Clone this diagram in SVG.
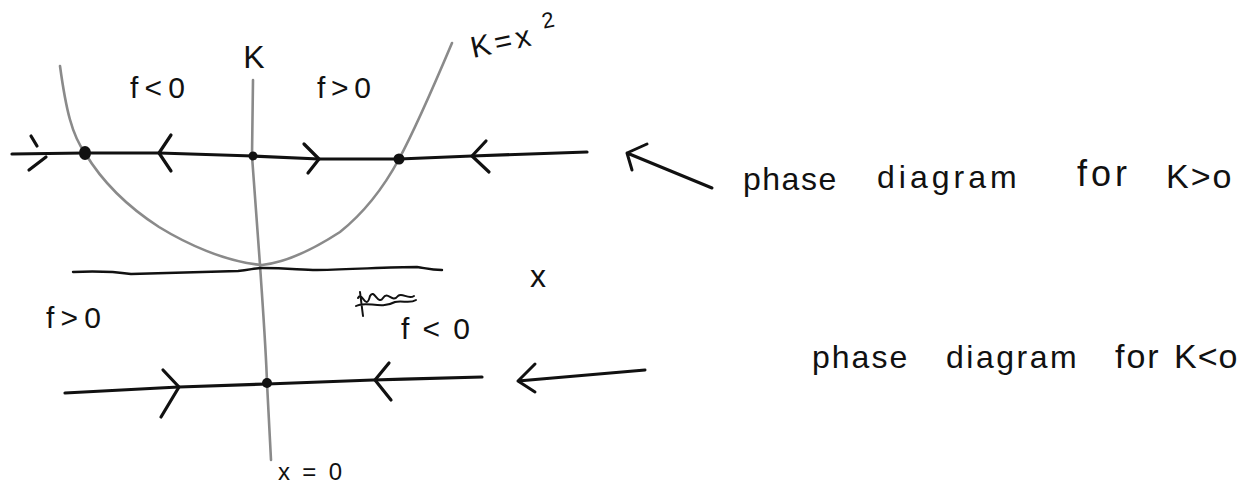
<svg xmlns="http://www.w3.org/2000/svg" width="1244" height="485" viewBox="0 0 1244 485">
  <style>
    .ink { fill: none; stroke: #111; stroke-linecap: round; stroke-linejoin: round; }
    .thick { stroke-width: 3.2; }
    .pencil { fill: none; stroke: #8a8a8a; stroke-width: 2.6; stroke-linecap: round; stroke-linejoin: round; }
    .dot { fill: #111; }
    text { font-family: "Liberation Sans", Arial, sans-serif; fill: #111; }
  </style>
  <rect width="1244" height="485" fill="#fff"/>

  <!-- curve K = x^2 and K axis (pencil) -->
  <g id="parabola">
    <path class="pencil" d="M60,66 C66,110 72,135 85,153 C100,178 125,205 159,227 C185,243 225,262 262,265 C290,262 320,245 340,232 C365,212 385,185 399,159 C412,135 430,95 452,43"/>
  </g>
  <g id="k-axis">
    <path class="pencil" d="M253,80 L252,156 C255,200 258,240 260,265 C263,310 266,350 267,383 L271,460"/>
  </g>

  <!-- x axis -->
  <g id="x-axis">
    <path class="ink" stroke-width="2.4" d="M73,272 C95,271 110,271 131,274 C170,273 210,272 238,271 C250,270 255,268 262,268 C290,268 300,270 317,270 C360,269 390,267 417,267 C425,268 430,270 442,270"/>
  </g>

  <!-- phase line K>0 -->
  <g id="phase-line-k-pos">
    <path class="ink thick" d="M12,154 L85,153 L159,153 L253,156 L319,159 L399,159 L472,156 L587,152"/>
    <path class="ink thick" d="M31,136 L37,146 M29,170 L46,157"/>
    <path class="ink thick" d="M171,135 L159,153 L171,171"/>
    <path class="ink thick" d="M304,144 L319,159 L308,173"/>
    <path class="ink thick" d="M486,141 L472,156 L489,172"/>
    <ellipse class="dot" cx="85" cy="153" rx="6" ry="7"/>
    <circle class="dot" cx="253" cy="156" r="4.5"/>
    <circle class="dot" cx="399" cy="159" r="5.5"/>
  </g>

  <!-- phase line K<0 -->
  <g id="phase-line-k-neg">
    <path class="ink thick" d="M65,393 C100,391 140,389 179,387 C210,386 240,385 267,384 C300,383 340,381 373,380 C410,379 450,378 482,377"/>
    <path class="ink thick" d="M163,370 L179,387 L161,417"/>
    <path class="ink thick" d="M389,363 L375,380 L391,400"/>
    <circle class="dot" cx="267" cy="383" r="5"/>
  </g>

  <!-- scribble (crossed-out mark) -->
  <g id="scribble">
    <path class="ink" stroke-width="2" d="M358,298 C362,290 366,312 370,296 C374,288 378,306 383,298 C388,290 392,304 398,296 C402,292 408,300 414,296 M356,306 C366,300 380,310 395,302 C402,300 410,304 416,300 M360,292 L363,316"/>
  </g>

  <!-- labels -->
  <g id="labels">
    <text x="254" y="68" font-size="32" text-anchor="middle">K</text>
    <text x="130" y="98" font-size="30" textLength="55" lengthAdjust="spacing">f&lt;0</text>
    <text x="317" y="98" font-size="30" textLength="54" lengthAdjust="spacing">f&gt;0</text>
    <text transform="rotate(-12 473 58)" x="473" y="58" font-size="30" letter-spacing="4">K=x<tspan x="548" y="44" font-size="22" letter-spacing="0">2</tspan></text>
    <text x="530" y="287" font-size="32">x</text>
    <text x="46" y="328" font-size="30" textLength="55" lengthAdjust="spacing">f&gt;0</text>
    <text x="401" y="339" font-size="30" textLength="69" lengthAdjust="spacing">f&lt;0</text>
    <text x="278" y="480" font-size="24" textLength="64" lengthAdjust="spacing">x=0</text>
  </g>

  <!-- annotation arrows -->
  <g id="connectors">
    <path class="ink" stroke-width="3" d="M712,188 L627,153 M647,144 L627,153 L632,170"/>
    <path class="ink" stroke-width="3" d="M645,370 L518,381 M535,364 L518,381 L535,392"/>
  </g>

  <!-- annotation texts -->
  <g id="note-k-pos">
    <text font-size="32"><tspan x="743" y="190" letter-spacing="1.5">phase</tspan><tspan x="877" y="188" letter-spacing="4">diagram</tspan><tspan x="1077" y="186" font-size="36" letter-spacing="4">for</tspan><tspan x="1166" y="188" font-size="34" letter-spacing="2">K&gt;o</tspan></text>
  </g>
  <g id="note-k-neg">
    <text font-size="32"><tspan x="812" y="368" letter-spacing="2">phase</tspan><tspan x="946" y="368" letter-spacing="2.5">diagram</tspan><tspan x="1115" y="368" font-size="34" letter-spacing="2">for</tspan><tspan x="1174" y="368" font-size="34" letter-spacing="1">K&lt;o</tspan></text>
  </g>
</svg>
